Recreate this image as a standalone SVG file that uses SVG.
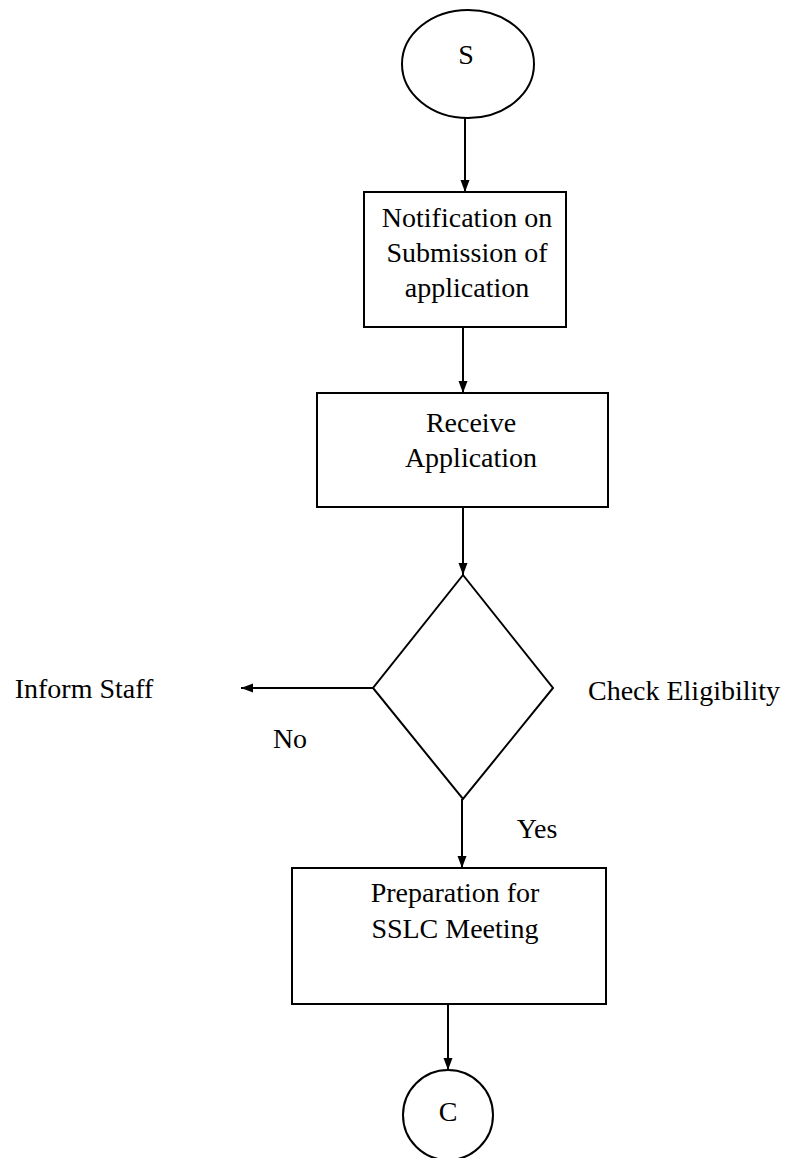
<svg xmlns="http://www.w3.org/2000/svg" width="792" height="1158" viewBox="0 0 792 1158">
<defs>
<marker id="arr" markerUnits="userSpaceOnUse" markerWidth="12" markerHeight="12" viewBox="0 0 12 12" refX="12" refY="6" orient="auto">
<path d="M0,1.5 L12,6 L0,10.5 Z" fill="#000"/>
</marker>
<style>
.s{fill:#fff;stroke:#000;stroke-width:2}
.t{font-size:28px;fill:#000;text-anchor:middle}
.c{fill:none;stroke:#000;stroke-width:2}
</style>
</defs>
<rect width="792" height="1158" fill="#fff"/>
<g id="connectors">
<line class="c" x1="465" y1="118" x2="465" y2="192" marker-end="url(#arr)"/>
<line class="c" x1="463" y1="327" x2="463" y2="393" marker-end="url(#arr)"/>
<line class="c" x1="463" y1="507" x2="463" y2="575" marker-end="url(#arr)"/>
<line class="c" x1="373" y1="688" x2="241" y2="688" marker-end="url(#arr)"/>
<line class="c" x1="462" y1="799" x2="462" y2="868" marker-end="url(#arr)"/>
<line class="c" x1="448" y1="1004" x2="448" y2="1070" marker-end="url(#arr)"/>
</g>
<g font-family="Liberation Serif, DejaVu Serif, serif">
<g id="start">
<ellipse class="s" cx="468" cy="64" rx="66" ry="54"/>
<text class="t" x="466" y="64">S</text>
</g>
<g id="notification">
<rect class="s" x="364" y="192" width="202" height="135"/>
<text class="t" x="467" y="227">Notification on</text>
<text class="t" x="467" y="262">Submission of</text>
<text class="t" x="467" y="297">application</text>
</g>
<g id="receive">
<rect class="s" x="317" y="393" width="291" height="114"/>
<text class="t" x="471" y="432">Receive</text>
<text class="t" x="471" y="467">Application</text>
</g>
<g id="check">
<polygon class="s" points="463,575 553,688 463,799 373,688"/>
</g>
<text class="t" x="84" y="698">Inform Staff</text>
<text class="t" x="684" y="700">Check Eligibility</text>
<text class="t" x="290" y="748">No</text>
<text class="t" x="537" y="838">Yes</text>
<g id="preparation">
<rect class="s" x="292" y="868" width="314" height="136"/>
<text class="t" x="455" y="902">Preparation for</text>
<text class="t" x="455" y="938">SSLC Meeting</text>
</g>
<g id="connector-c">
<circle class="s" cx="448" cy="1115" r="45"/>
<text class="t" x="448" y="1121">C</text>
</g>
</g>
</svg>
